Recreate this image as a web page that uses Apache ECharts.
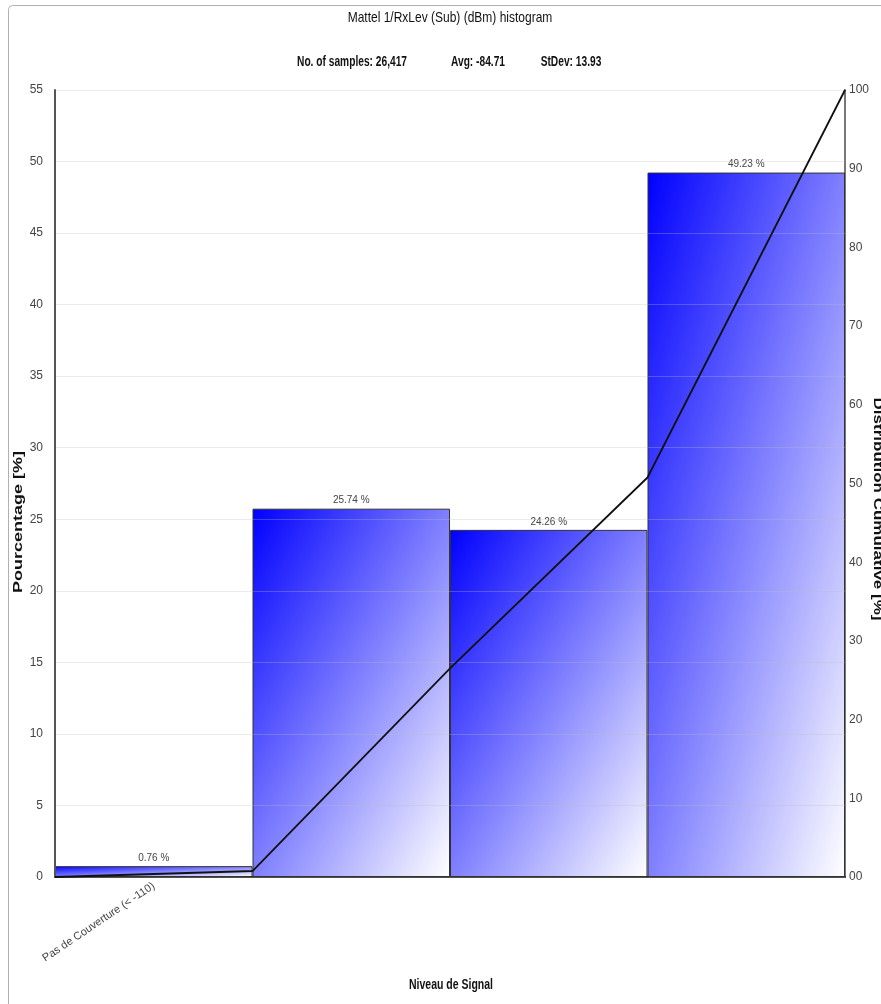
<!DOCTYPE html>
<html>
<head>
<meta charset="utf-8">
<script src="https://cdn.jsdelivr.net/npm/echarts@6/dist/echarts.min.js"></script>
<style>
html,body{margin:0;padding:0;background:#fff;}
#chart{width:881px;height:1004px;}
</style>
</head>
<body>
<div id="chart"></div>
<script>
// ---- data ----
var titleText = 'Mattel 1/RxLev (Sub) (dBm) histogram';
var statSamples = 'No. of samples: 26,417';
var statAvg = 'Avg: -84.71';
var statStdev = 'StDev: 13.93';
var categories = ['Pas de Couverture (< -110)', '', '', ''];
var percentages = [0.76, 25.74, 24.26, 49.23];
var cumulativeX = [0, 1, 2, 3, 4];
var cumulativeValues = [0, 0.76, 26.50, 50.76, 100];
var leftAxisName = 'Pourcentage [%]';
var rightAxisName = 'Distribution Cumulative [%]';
var xAxisName = 'Niveau de Signal';

var FONT = "'Liberation Sans Narrow', 'Arial Narrow', 'Liberation Sans', Arial, sans-serif";

var chart = echarts.init(document.getElementById('chart'));

function barColor(w, h) {
  var s = h * h + w * w;
  return {
    type: 'linear', x: 0, y: 0,
    x2: 2 * h * h / s, y2: 2 * w * w / s,
    colorStops: [{offset: 0, color: '#0000ff'}, {offset: 1, color: '#ffffff'}]
  };
}

function txt(x, y, text, font, sx, sy, rot, color) {
  return {type: 'text', x: x, y: y, rotation: rot || 0, scaleX: sx, scaleY: sy,
    style: {text: text, font: font, fill: color || '#111', align: 'center', verticalAlign: 'middle'}};
}

function buildOption(barData) {
  return {
    backgroundColor: '#ffffff',
    animation: false,
    textStyle: {fontFamily: FONT},
    grid: {left: 55, right: 36, top: 90, bottom: 127, containLabel: false},
    graphic: [
      {type: 'rect', shape: {x: 8.5, y: 5.5, width: 900, height: 1100, r: 4}, style: {fill: 'none', stroke: '#b0b0b0', lineWidth: 1}, z: -10},
      txt(450, 18, titleText, '15px ' + FONT, 0.8, 1, 0, '#111'),
      txt(352, 62, statSamples, 'bold 15px ' + FONT, 0.68, 1),
      txt(478, 62, statAvg, 'bold 15px ' + FONT, 0.68, 1),
      txt(571, 62, statStdev, 'bold 15px ' + FONT, 0.68, 1),
      txt(18, 522, leftAxisName, 'bold 18px ' + FONT, 1, 0.72, Math.PI / 2),
      txt(877, 509, rightAxisName, 'bold 17px ' + FONT, 1, 0.72, -Math.PI / 2),
      txt(451, 985, xAxisName, 'bold 14px ' + FONT, 0.75, 1)
    ],
    xAxis: [
      {
        type: 'category', data: categories, gridIndex: 0,
        axisLine: {lineStyle: {color: '#222', width: 2}},
        axisTick: {show: false},
        axisLabel: {rotate: 34, color: '#444', fontSize: 11, margin: 8, interval: 0, fontFamily: FONT},
        splitLine: {show: false}
      },
      {
        type: 'value', min: 0, max: 4, show: false, gridIndex: 0
      }
    ],
    yAxis: [
      {
        type: 'value', min: 0, max: 55, interval: 5, z: 3,
        axisLine: {show: true, lineStyle: {color: '#555', width: 2}},
        axisTick: {show: false},
        axisLabel: {color: '#444', fontSize: 12, margin: 12, fontFamily: FONT},
        splitLine: {show: true, lineStyle: {color: 'rgba(190,190,190,0.3)', width: 1}}
      },
      {
        type: 'value', min: 0, max: 100, interval: 10, position: 'right',
        axisLine: {show: true, lineStyle: {color: '#777', width: 2}},
        axisTick: {show: false},
        axisLabel: {color: '#444', fontSize: 12, margin: 4, fontFamily: FONT,
          formatter: function (v) { return v === 0 ? '00' : String(v); }},
        splitLine: {show: false}
      }
    ],
    series: [
      {
        type: 'bar', xAxisIndex: 0, yAxisIndex: 0,
        data: barData,
        barWidth: '100%', barGap: '0%', barCategoryGap: '0%',
        itemStyle: {borderColor: '#333', borderWidth: 1},
        label: {show: true, position: 'top', distance: 3, color: '#444', fontSize: 10, fontFamily: FONT,
          formatter: function (p) { return p.value.toFixed(2) + ' %'; }},
        z: 2
      },
      {
        type: 'line', xAxisIndex: 1, yAxisIndex: 1,
        data: cumulativeX.map(function (x, i) { return [x, cumulativeValues[i]]; }),
        showSymbol: false, symbol: 'none',
        lineStyle: {color: '#111', width: 1.8},
        z: 5
      }
    ]
  };
}

chart.setOption(buildOption(percentages.map(function (v) { return {value: v}; })));

// per-bar pixel sizes for the diagonal gradient
var barData = percentages.map(function (v, i) {
  var p0 = chart.convertToPixel({xAxisIndex: 0, yAxisIndex: 0}, [i, 0]);
  var p1 = chart.convertToPixel({xAxisIndex: 0, yAxisIndex: 0}, [i, v]);
  var w = 790 / categories.length;
  var h = Math.max(1, Math.abs(p0[1] - p1[1]));
  return {value: v, itemStyle: {color: barColor(w, h)}};
});
chart.setOption(buildOption(barData), true);
</script>
</body>
</html>
